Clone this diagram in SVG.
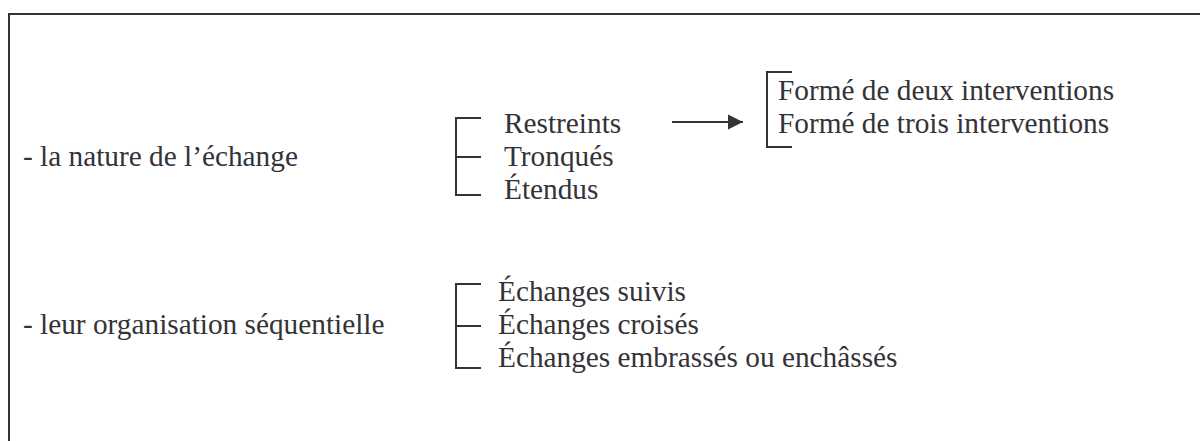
<svg xmlns="http://www.w3.org/2000/svg" width="1200" height="441" viewBox="0 0 1200 441">
<defs>
<style>
text{font-family:"Liberation Serif","Times New Roman",serif;font-size:29.3px;fill:#333338}
.ln{stroke:#333338;stroke-width:2;fill:none}
</style>
<marker id="ah" markerWidth="16" markerHeight="16" refX="15" refY="8" markerUnits="userSpaceOnUse" orient="auto"><path d="M0,0.5 L15,8 L0,15.5 Z" fill="#333338"/></marker>
</defs>
<rect width="1200" height="441" fill="#fff"/>
<g id="frame"><path class="ln" d="M9,441 V14 H1200" stroke-width="3"/></g>
<g id="nature"><text x="23" y="166">- la nature de l’échange</text></g>
<g id="organisation"><text x="23" y="334">- leur organisation séquentielle</text></g>
<g id="types1">
<path class="ln" d="M481,118 H456 V195 H481 M456,157 H481"/>
<text x="504" y="133">Restreints</text>
<text x="504" y="166">Tronqués</text>
<text x="504" y="199">Étendus</text>
</g>
<g id="restreints-sub">
<path class="ln" d="M792,72 H767 V147 H792"/>
<text x="778" y="100">Formé de deux interventions</text>
<text x="778" y="133">Formé de trois interventions</text>
</g>
<g id="types2">
<path class="ln" d="M481,284 H456 V368 H481 M456,326 H481"/>
<text x="498" y="301">Échanges suivis</text>
<text x="498" y="334">Échanges croisés</text>
<text x="498" y="367">Échanges embrassés ou enchâssés</text>
</g>
<g id="connectors">
<line class="ln" x1="672" y1="122" x2="743" y2="122" marker-end="url(#ah)"/>
</g>
</svg>
